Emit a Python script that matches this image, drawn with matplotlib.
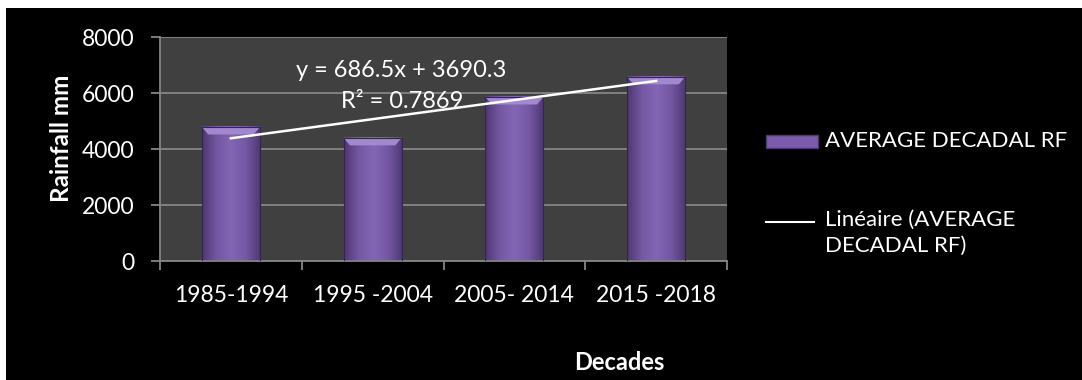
import numpy as np
import matplotlib.pyplot as plt
from matplotlib.patches import Rectangle, Polygon
from matplotlib.lines import Line2D
from matplotlib.colors import LinearSegmentedColormap

# data
decades = ['1985-1994', '1995 -2004', '2005- 2014', '2015 -2018']
rainfall = [4790, 4400, 5860, 6580]
eq_text = 'y = 686.5x + 3690.3'
r2_text = 'R² = 0.7869'
series_name = 'AVERAGE DECADAL RF'
trend_name = 'Linéaire (AVERAGE\nDECADAL RF)'
yticks = [0, 2000, 4000, 6000, 8000]

plt.rcParams['font.family'] = ['Lato', 'DejaVu Sans']

W, H = 1082, 380
fig = plt.figure(figsize=(W / 100, H / 100), dpi=100)
fig.patch.set_facecolor('white')
fig.add_artist(Rectangle((6 / W, 0), 1, 1 - 8 / H, transform=fig.transFigure,
                         facecolor='black', edgecolor='none', zorder=0))

ax = fig.add_axes([160 / W, 1 - 261 / H, 567 / W, 224 / H])
ax.set_facecolor('#404040')

x = np.arange(len(decades))
w = 0.41
ax.set_xlim(-0.5, len(decades) - 0.5)
ax.set_ylim(0, 8000)

# bars: side-to-side gradient plus a light bevel on top
bar_cmap = LinearSegmentedColormap.from_list(
    'bar', ['#4d3872', '#7558a4', '#8466b4', '#7558a4', '#4d3872'])
grad = np.linspace(0, 1, 64).reshape(1, -1)
bev = 270
for xi, v in zip(x, rainfall):
    ax.imshow(grad, extent=[xi - w / 2, xi + w / 2, 0, v], aspect='auto',
              cmap=bar_cmap, zorder=2, interpolation='bicubic')
    ax.add_patch(Polygon([[xi - w / 2, v], [xi + w / 2, v], [xi + w / 2 - 0.045, v - bev],
                          [xi - w / 2 + 0.045, v - bev]], closed=True,
                         facecolor='#a288cf', edgecolor='none', zorder=3))
    ax.add_patch(Rectangle((xi - w / 2, 0), w, v, facecolor='none',
                           edgecolor='#33254f', linewidth=0.8, zorder=3))
ax.set_aspect('auto')

# linear trend
coef = np.polyfit(x + 1, rainfall, 1)
ax.plot(x, np.polyval(coef, x + 1), color='white', linewidth=1.8, zorder=4)
ax.text(1.20, 6580, eq_text, color='white', fontsize=17, ha='center', va='baseline', zorder=5)
ax.text(1.21, 5460, r2_text, color='white', fontsize=17, ha='center', va='baseline', zorder=5)

# axes styling
ax.set_yticks(yticks)
ax.set_yticklabels([str(t) for t in yticks])
ax.grid(axis='y', color='#858585', linewidth=1.3, zorder=1)
ax.set_axisbelow(True)
ax.set_xticks(x)
ax.set_xticklabels(decades)
ax.set_xticks(np.arange(-0.5, len(decades)), minor=True)
ax.tick_params(axis='x', which='major', length=0, pad=17, labelsize=16.5, labelcolor='white')
ax.tick_params(axis='x', which='minor', length=6.5, color='#858585', width=1.3)
ax.tick_params(axis='y', length=6.5, color='#858585', width=1.3, labelsize=16.5,
               labelcolor='white', pad=12)
for s in ['top', 'right']:
    ax.spines[s].set_visible(False)
for s in ['left', 'bottom']:
    ax.spines[s].set_color('#858585')
    ax.spines[s].set_linewidth(1.3)

fig.text(62 / W, 1 - 138 / H, 'Rainfall mm', color='white', fontsize=17.5,
         fontweight='bold', rotation=90, ha='center', va='center')
fig.text(619 / W, 1 - 362 / H, 'Decades', color='white', fontsize=17,
         fontweight='bold', ha='center', va='center')

# legend keys and labels
fig.add_artist(Rectangle((766 / W, 1 - 148 / H), 52 / W, 13 / H, transform=fig.transFigure,
                         facecolor='#7a5caa', edgecolor='#4d3872', linewidth=1))
fig.add_artist(Line2D([766 / W, 814 / W], [1 - 222 / H, 1 - 222 / H],
                      transform=fig.transFigure, color='white', linewidth=1.5))
fig.text(825 / W, 1 - 141 / H, series_name, color='white', fontsize=16,
         ha='left', va='center')
fig.text(825 / W, 1 - 210 / H, trend_name, color='white', fontsize=16,
         ha='left', va='top', linespacing=1.35)

fig.savefig('out.png', dpi=100, facecolor=fig.get_facecolor())
